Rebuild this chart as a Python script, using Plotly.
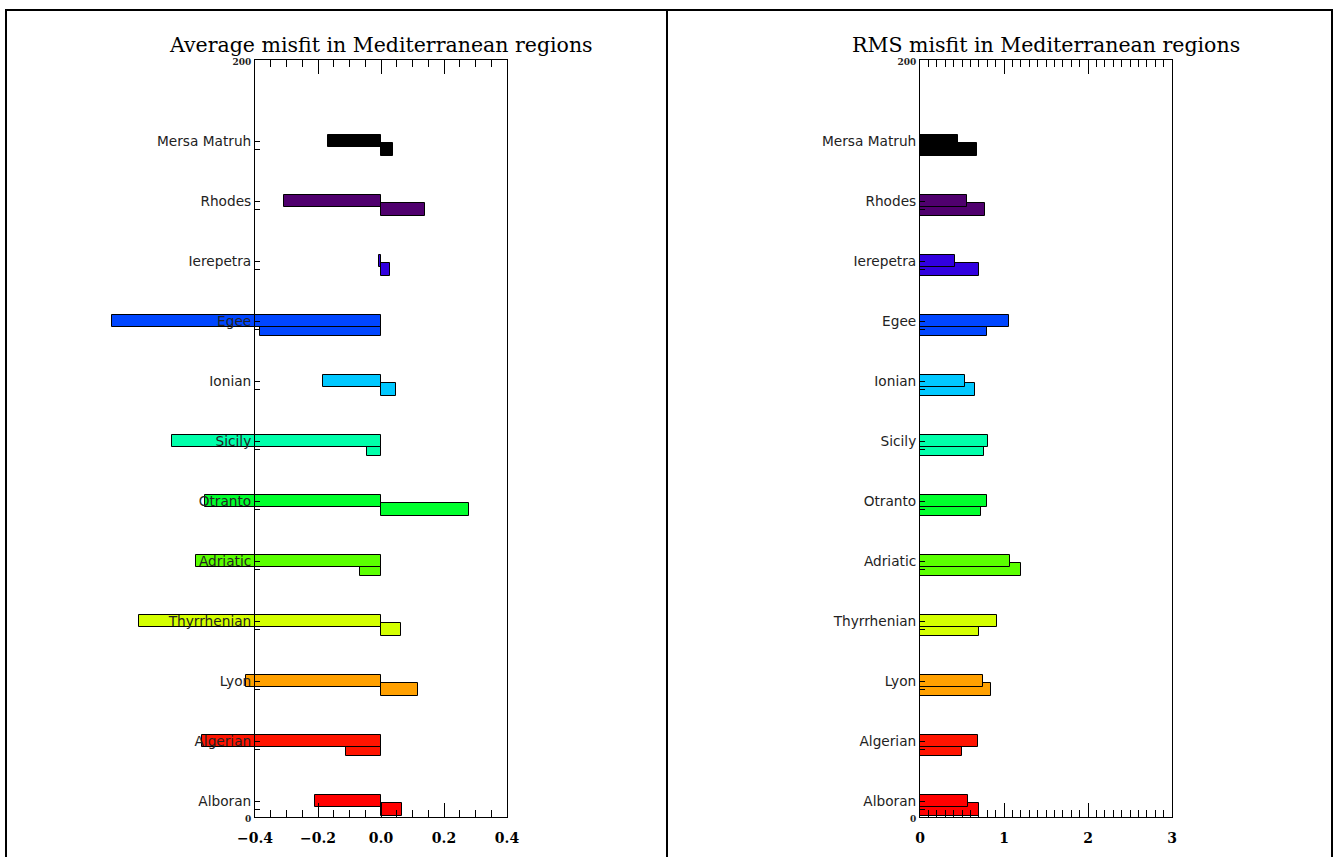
import plotly.graph_objects as go

# ---------------- data ----------------
regions = ["Alboran", "Algerian", "Lyon", "Thyrrhenian", "Adriatic", "Otranto",
           "Sicily", "Ionian", "Egee", "Ierepetra", "Rhodes", "Mersa Matruh"]
colors = ["#ff0000", "#ff1400", "#ffa000", "#d4ff00", "#5aff00", "#00ff2d",
          "#00ffaa", "#00c8ff", "#0046ff", "#3200e0", "#50006e", "#000000"]
avg_first = [-0.210, -0.569, -0.430, -0.767, -0.588, -0.558,
             -0.662, -0.185, -0.854, -0.006, -0.309, -0.169]
avg_second = [0.068, -0.112, 0.118, 0.065, -0.068, 0.280,
              -0.044, 0.048, -0.383, 0.029, 0.141, 0.039]
rms_first = [0.571, 0.690, 0.746, 0.917, 1.075, 0.798,
             0.806, 0.532, 1.060, 0.417, 0.563, 0.457]
rms_second = [0.702, 0.500, 0.845, 0.702, 1.206, 0.726,
              0.762, 0.655, 0.798, 0.702, 0.774, 0.675]
avg_ticks = [-0.4, -0.2, 0.0, 0.2, 0.4]
rms_ticks = [0, 1, 2, 3]
titles = ["Average misfit in Mediterranean regions", "RMS misfit in Mediterranean regions"]

# ---------------- geometry ----------------
W, H = 1337, 857
def fx(p):
    return p / W
def fy(p):
    return 1 - p / H

y_top_px, y_bot_px = 60, 817
L0, L1 = 255, 507
R0, R1 = 920, 1172
avg_range = [-0.4, 0.4]
rms_range = [0, 3]
scale_l = (L1 - L0) / (avg_range[1] - avg_range[0])
bar_min = -1.0
wide_left_px = L1 - (avg_range[1] - bar_min) * scale_l

base, step, off, bw = 4.2, 15.85, 2.2, 3.3
pos_top = [base + step * i for i in range(len(regions))]
pos_bot = [p - off for p in pos_top]

small = "<span style='font-family:DejaVu Serif;font-size:9px'><b>%s</b></span>"
tickvals = pos_top + pos_bot + [0, 200]
ticktext = regions + [""] * len(regions) + [small % "0", small % "200"]

fig = go.Figure()
line = dict(color="black", width=1)
# left panel: lower bars first, then upper bars on top (wide, unclipped bar axis)
fig.add_trace(go.Bar(y=pos_bot, x=avg_second, orientation="h", width=bw,
                     marker=dict(color=colors, line=line), xaxis="x", yaxis="y",
                     showlegend=False, hoverinfo="skip"))
fig.add_trace(go.Bar(y=pos_top, x=avg_first, orientation="h", width=bw,
                     marker=dict(color=colors, line=line), xaxis="x", yaxis="y",
                     showlegend=False, hoverinfo="skip"))
# empty trace registering the visible framed subplot of the left panel
fig.add_trace(go.Scatter(x=[], y=[], xaxis="x2", yaxis="y", showlegend=False,
                         hoverinfo="skip"))
# right panel
fig.add_trace(go.Bar(y=pos_bot, x=rms_second, orientation="h", width=bw,
                     marker=dict(color=colors, line=line), xaxis="x4", yaxis="y2",
                     showlegend=False, hoverinfo="skip"))
fig.add_trace(go.Bar(y=pos_top, x=rms_first, orientation="h", width=bw,
                     marker=dict(color=colors, line=line), xaxis="x4", yaxis="y2",
                     showlegend=False, hoverinfo="skip"))

ydom = [fy(y_bot_px), fy(y_top_px)]
xfont = dict(family="DejaVu Serif", size=14, color="black", weight="bold")
yfont = dict(family="DejaVu Sans", size=13.7, color="#222")

common_x = dict(showgrid=False, zeroline=False, showline=True, linecolor="black",
                linewidth=1, mirror="ticks", ticks="inside", ticklen=14,
                tickcolor="black", tickwidth=1, tickfont=xfont,
                ticklabelstandoff=8, fixedrange=True, automargin=False)
common_y = dict(range=[0, 200], domain=ydom, showgrid=False, zeroline=False,
                showline=True, linecolor="black", linewidth=1, mirror=True,
                ticks="inside", ticklen=5, tickcolor="black", tickwidth=1,
                tickmode="array", tickvals=tickvals, ticktext=ticktext,
                tickfont=yfont, fixedrange=True, automargin=False)

fig.update_layout(
    width=W, height=H, margin=dict(l=0, r=0, t=0, b=0, autoexpand=False),
    paper_bgcolor="white", plot_bgcolor="rgba(0,0,0,0)",
    barmode="overlay", bargap=0,
    xaxis=dict(domain=[fx(wide_left_px), fx(L1)], range=[bar_min, avg_range[1]],
               anchor="y", visible=False, fixedrange=True, automargin=False),
    xaxis2=dict(domain=[fx(L0), fx(L1)], range=avg_range, anchor="y",
                tickmode="array", tickvals=avg_ticks, tickformat=".1f",
                minor=dict(dtick=0.05, ticks="inside", ticklen=7, tickcolor="black"),
                **common_x),
    yaxis=dict(anchor="x2", **common_y),
    xaxis4=dict(domain=[fx(R0), fx(R1)], range=rms_range, anchor="y2",
                tickmode="array", tickvals=rms_ticks, tickformat="d",
                minor=dict(dtick=0.1, ticks="inside", ticklen=7, tickcolor="black"),
                **common_x),
    yaxis2=dict(anchor="x4", **common_y),
)

for t, (a, b) in zip(titles, [(L0, L1), (R0, R1)]):
    fig.add_annotation(text=t, x=fx((a + b) / 2), y=fy(45), xref="paper", yref="paper",
                       xanchor="center", yanchor="middle", showarrow=False,
                       font=dict(family="DejaVu Serif", size=20.5, color="black"))

# outer frame and divider
fig.add_shape(type="rect", xref="paper", yref="paper", x0=fx(6), x1=fx(1332),
              y0=fy(880), y1=fy(10), line=dict(color="black", width=2))
fig.add_shape(type="line", xref="paper", yref="paper", x0=fx(667), x1=fx(667),
              y0=fy(880), y1=fy(10), line=dict(color="black", width=2))

fig.write_html("out.html")
